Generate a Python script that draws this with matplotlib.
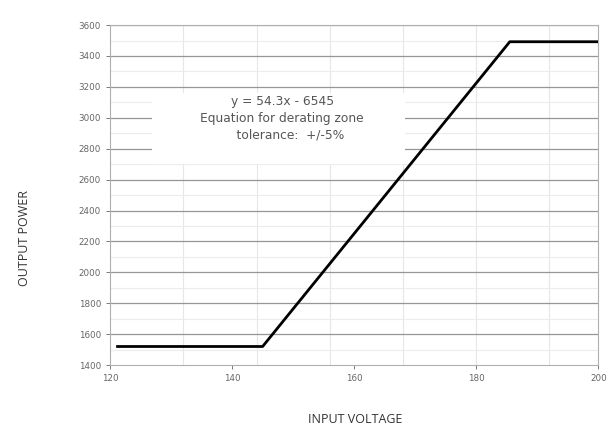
import numpy as np
import matplotlib.pyplot as plt
from matplotlib.patches import Rectangle

# derating curve
voltage = [121, 145, 185.5, 200]
power = [1520, 1520, 3492, 3492]

x_ticks = [120, 140, 160, 180, 200]
y_ticks = [1400, 1600, 1800, 2000, 2200, 2400, 2600, 2800, 3000, 3200, 3400, 3600]
paper_x = [132, 144, 156, 168, 180, 192]  # faint background grid of the scan
paper_y = [1500, 1700, 1900, 2100, 2300, 2500, 2700, 2900, 3100, 3300, 3500]

note = "y = 54.3x - 6545\nEquation for derating zone\n    tolerance:  +/-5%"

fig = plt.figure(figsize=(6.08, 4.32), dpi=100)
ax = fig.add_axes([0.181, 0.155, 0.803, 0.787])

ax.set_xlim(120, 200)
ax.set_ylim(1400, 3600)

# faint paper grid
for xv in paper_x:
    ax.axvline(xv, color='#e6e6e6', lw=0.8, zorder=0)
for yv in paper_y:
    ax.axhline(yv, color='#ececec', lw=0.8, zorder=0)

# major horizontal gridlines
for yv in y_ticks[1:]:
    ax.axhline(yv, color='#969696', lw=0.9, zorder=1)

# white box behind the equation text
ax.add_patch(Rectangle((126.9, 2700), 41.5, 460, facecolor='white',
                       edgecolor='none', zorder=2))
ax.text(148.2, 3145, note, ha='center', va='top', fontsize=8.8,
        color='#555555', family='DejaVu Sans', linespacing=1.35, zorder=3)

ax.plot(voltage, power, color='black', lw=2.0, zorder=4, solid_capstyle='butt')

ax.set_xticks(x_ticks)
ax.set_yticks(y_ticks)
ax.tick_params(labelsize=6.3, colors='#666666', length=3, width=0.6)
for s in ['left', 'bottom', 'right', 'top']:
    ax.spines[s].set_color('#b0b0b0')
    ax.spines[s].set_linewidth(0.8)

fig.text(0.04, 0.45, 'OUTPUT POWER', rotation=90, ha='center', va='center',
         fontsize=9, color='#333333', family='Open Sans')
fig.text(0.585, 0.028, 'INPUT VOLTAGE', ha='center', va='center',
         fontsize=9, color='#333333', family='Open Sans')

fig.savefig('out.png', dpi=100)
